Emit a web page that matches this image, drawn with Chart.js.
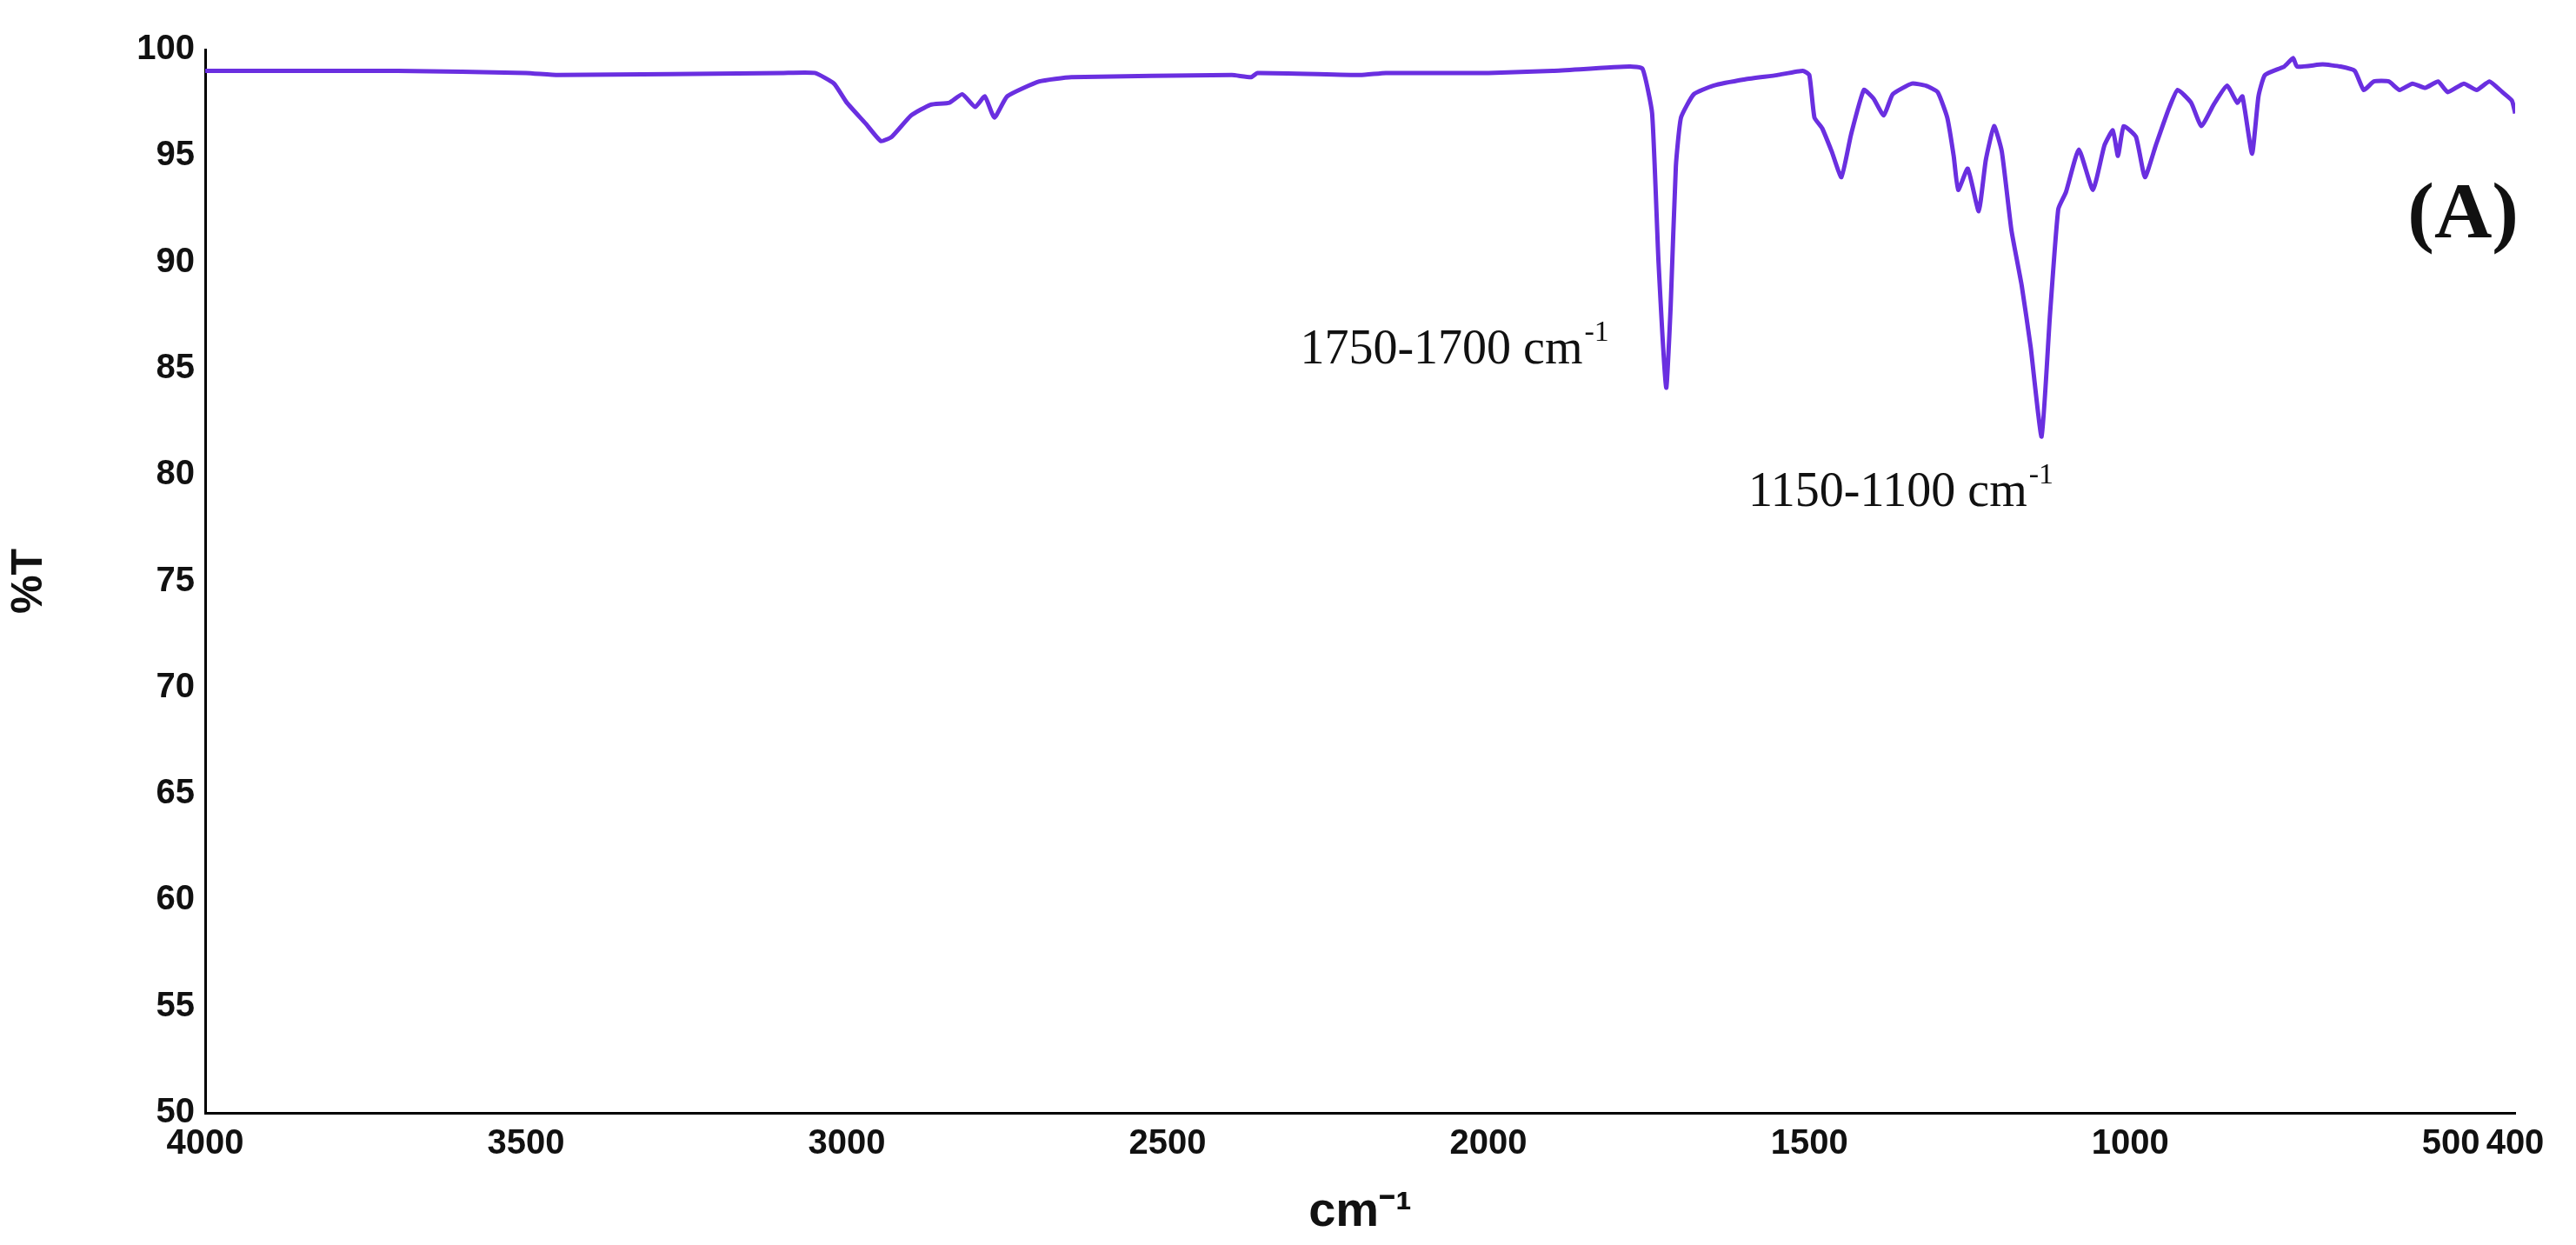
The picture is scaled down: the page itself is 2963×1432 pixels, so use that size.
<!DOCTYPE html>
<html><head><meta charset="utf-8">
<script src="https://cdn.jsdelivr.net/npm/chart.js@4"></script>
<style>html,body{margin:0;padding:0;background:#fff}#w{width:2963px;height:1432px}</style>
</head><body><div id="w"><canvas id="c"></canvas></div>
<script>
const wavenumbers = [4000,3700,3500,3450,3100,3050,3020,3000,2970,2947,2930,2900,2870,2840,2820,2800,2785,2770,2750,2700,2650,2400,2370,2360,2200,2160,2000,1900,1780,1760,1745,1735,1723,1716,1708,1700,1680,1650,1600,1550,1510,1500,1492,1480,1465,1450,1435,1415,1400,1384,1370,1340,1318,1300,1285,1275,1268,1253,1236,1225,1212,1200,1185,1169,1155,1138,1125,1112,1100,1080,1058,1040,1027,1019,1010,991,977,960,940,926,905,889,870,849,833,825,810,800,790,760,746,740,700,672,650,636,620,597,580,560,540,520,505,480,460,440,420,405,400];
const transmittance = [99.0,99.0,98.9,98.8,98.9,98.9,98.4,97.5,96.5,95.7,95.9,96.9,97.4,97.5,97.9,97.3,97.8,96.8,97.8,98.5,98.7,98.8,98.7,98.9,98.8,98.9,98.9,99.0,99.2,99.1,97.0,90.0,84.1,88.0,94.5,96.8,97.9,98.3,98.6,98.8,99.0,98.8,96.8,96.3,95.2,94.0,96.0,98.1,97.7,96.9,97.9,98.4,98.3,98.0,96.8,95.0,93.4,94.4,92.4,94.8,96.4,95.2,91.5,88.9,86.0,81.8,87.5,92.5,93.3,95.3,93.4,95.5,96.2,95.0,96.4,95.9,94.0,95.5,97.2,98.1,97.5,96.4,97.4,98.3,97.5,97.8,95.1,97.8,98.8,99.2,99.6,99.2,99.3,99.2,99.0,98.1,98.5,98.5,98.1,98.4,98.2,98.5,98.0,98.4,98.1,98.5,98.0,97.6,97.0];
const xTicks = [4000,3500,3000,2500,2000,1500,1000,500,400];
const yTicks = [50,55,60,65,70,75,80,85,90,95,100];

const pts = wavenumbers.map((x,i)=>({x:x,y:transmittance[i]}));
const annot = {
  id:'annot',
  afterDraw(ch){
    const c=ch.ctx, a=ch.chartArea, W=a.right-a.left, H=a.bottom-a.top;
    c.save(); c.fillStyle='#111'; c.textBaseline='middle';
    const sup=(txt,x,y)=>{
      c.font='56px "Liberation Serif", serif'; c.textAlign='left';
      c.fillText(txt,x,y); const w=c.measureText(txt).width;
      c.font='34px "Liberation Serif", serif'; c.fillText('-1',x+w+2,y-20);
    };
    sup('1750-1700 cm',a.left+W*0.474,a.top+H*0.283);
    sup('1150-1100 cm',a.left+W*0.668,a.top+H*0.417);
    c.font='bold 92px "Liberation Serif", serif'; c.textAlign='right';
    c.fillText('(A)',a.right+4,a.top+H*0.157);
    c.restore();
  }
};
const tickFont={family:'"Liberation Sans",Arial',size:40,weight:'bold'};
new Chart(document.getElementById('c'),{
  type:'line',
  data:{datasets:[{data:pts,borderColor:'#6a2fe0',borderWidth:5,pointRadius:0,tension:0.15,fill:false}]},
  options:{
    responsive:true,maintainAspectRatio:false,animation:false,
    layout:{padding:{left:0,top:57,right:70,bottom:0}},
    plugins:{legend:{display:false},tooltip:{enabled:false}},
    scales:{
      x:{type:'linear',reverse:true,min:400,max:4000,
        afterBuildTicks(s){s.ticks=xTicks.map(v=>({value:v}));},
        afterFit(s){s.height=152;},
        grid:{display:false,drawTicks:true,tickLength:12,tickColor:'#000'},
        border:{color:'#000',width:3},
        ticks:{autoSkip:false,maxRotation:0,color:'#111',padding:0,font:tickFont,callback:v=>String(v)},
        title:{display:true,text:'cm\u207B\u00B9',color:'#111',padding:{top:8},font:{family:'"Liberation Sans",Arial',size:56,weight:'bold'}}
      },
      y:{min:50,max:100,
        afterBuildTicks(s){s.ticks=yTicks.map(v=>({value:v}));},
        afterFit(s){s.width=236;},
        grid:{display:false,drawTicks:true,tickLength:12,tickColor:'#000'},
        border:{color:'#000',width:3},
        ticks:{color:'#111',padding:0,font:tickFont,callback:v=>String(v)},
        title:{display:true,text:'%T',color:'#111',padding:{bottom:30},font:{family:'"Liberation Sans",Arial',size:50,weight:'bold'}}
      }
    }
  },
  plugins:[annot]
});
</script></body></html>
